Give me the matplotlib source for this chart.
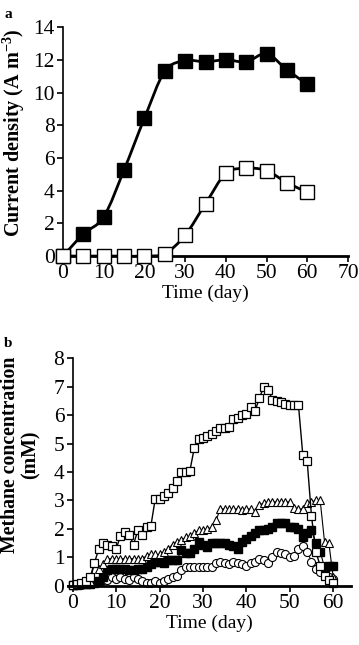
import numpy as np
import matplotlib
matplotlib.use('Agg')
import matplotlib.pyplot as plt
from matplotlib.path import Path
from matplotlib.patches import PathPatch

plt.rcParams['font.family'] = ['Liberation Serif', 'DejaVu Serif']
plt.rcParams['mathtext.fontset'] = 'custom'
plt.rcParams['mathtext.rm'] = 'Liberation Serif'
plt.rcParams['mathtext.bf'] = 'Liberation Serif:bold'

# panel a: current density (A m-3)
days_a = [0, 5, 10, 15, 20, 25, 30, 35, 40, 45, 50, 55, 60]
filled_a = [0, 1.35, 2.4, 5.27, 8.43, 11.3, 11.94, 11.88, 12.0, 11.88, 12.37, 11.39, 10.5]
open_a = [0, 0, 0, 0, 0, 0.15, 1.28, 3.2, 5.06, 5.37, 5.22, 4.49, 3.9]

# panel b: methane concentration (mM), daily
days_b = list(range(61))
open_sq = [0.02, 0.05, 0.1, 0.15, 0.3, 0.8, 1.3, 1.5, 1.45, 1.4,
           1.3, 1.75, 1.9, 1.8, 1.45, 1.95, 1.8, 2.05, 2.1, 3.05,
           3.05, 3.15, 3.25, 3.45, 3.7, 4.0, 4.0, 4.05, 4.85, 5.15,
           5.2, 5.25, 5.35, 5.45, 5.55, 5.55, 5.6, 5.85, 5.9, 6.0,
           6.05, 6.3, 6.15, 6.6, 7.0, 6.9, 6.55, 6.5, 6.45, 6.4,
           6.35, 6.35, 6.35, 4.6, 4.4, 2.45, 1.2, 0.7, 0.35, 0.2,
           0.1]
tri = [0.05, 0.05, 0.05, 0.1, 0.15, 0.8, 0.6, 0.75, 0.95, 0.95,
       0.95, 0.95, 0.95, 0.95, 0.95, 0.95, 0.95, 1.05, 1.1, 1.1,
       1.1, 1.2, 1.3, 1.45, 1.55, 1.6, 1.7, 1.75, 1.85, 1.95,
       1.95, 2.0, 2.05, 2.3, 2.7, 2.7, 2.7, 2.7, 2.7, 2.65,
       2.7, 2.7, 2.6, 2.85, 2.9, 2.95, 2.95, 2.95, 2.95, 2.95,
       2.95, 2.75, 2.7, 2.7, 2.9, 2.95, 3.0, 3.0, 1.55, 1.5,
       0.3]
filled_sq = [0.02, 0.03, 0.05, 0.05, 0.05, 0.1, 0.15, 0.3, 0.55, 0.6,
             0.6, 0.6, 0.6, 0.55, 0.55, 0.6, 0.6, 0.65, 0.75, 0.85,
             0.85, 0.8, 0.9, 0.9, 0.9, 1.25, 1.15, 1.15, 1.3, 1.55,
             1.45, 1.35, 1.5, 1.5, 1.5, 1.5, 1.45, 1.4, 1.3, 1.55,
             1.65, 1.75, 1.85, 1.95, 1.95, 2.0, 2.05, 2.2, 2.2, 2.2,
             2.05, 2.05, 2.0, 1.7, 1.85, 1.95, 1.5, 1.2, 0.65, 0.7,
             0.7]
circ = [0.02, 0.02, 0.03, 0.05, 0.05, 0.1, 0.15, 0.2, 0.2, 0.3,
        0.25, 0.3, 0.25, 0.2, 0.3, 0.25, 0.15, 0.1, 0.1, 0.15,
        0.1, 0.15, 0.25, 0.3, 0.35, 0.55, 0.65, 0.65, 0.65, 0.65,
        0.65, 0.65, 0.65, 0.8, 0.85, 0.8, 0.75, 0.85, 0.8, 0.75,
        0.7, 0.8, 0.85, 0.95, 0.9, 0.8, 1.0, 1.2, 1.15, 1.1,
        1.0, 1.05, 1.3, 1.4, 1.2, 0.85, 0.6, 0.5, 0.4, 0.3,
        0.25]


def smooth_path(x, y):
    # Excel-like smoothed line: cubic bezier segments through the points
    p = np.column_stack([x, y]).astype(float)
    n = len(p)
    verts = [p[0]]
    codes = [Path.MOVETO]
    for i in range(n - 1):
        p0 = p[i - 1] if i > 0 else p[i]
        p3 = p[i + 2] if i + 2 < n else p[i + 1]
        c1 = p[i] + (p[i + 1] - p0) / 6
        c2 = p[i + 1] - (p3 - p[i]) / 6
        verts += [c1, c2, p[i + 1]]
        codes += [Path.CURVE4] * 3
    return Path(verts, codes)


def style_axes(ax):
    for s in ['top', 'right']:
        ax.spines[s].set_visible(False)
    ax.spines['left'].set_position(('data', 0))
    ax.spines['left'].set_linewidth(1.2)
    ax.spines['bottom'].set_linewidth(2.0)
    ax.tick_params(direction='out', length=4, width=1.2, labelsize=15.5, pad=2)


fig = plt.figure(figsize=(3.59, 6.45), dpi=100)

# ---- panel a
ax1 = fig.add_axes([0.1755, 0.603, 0.794, 0.355])
ax1.add_patch(PathPatch(smooth_path(days_a, filled_a), fill=False, lw=2.0, color='black', zorder=2))
ax1.add_patch(PathPatch(smooth_path(days_a, open_a), fill=False, lw=2.0, color='black', zorder=2))
ax1.plot(days_a, filled_a, ls='none', marker='s', ms=10, mfc='black', mec='black', zorder=3, clip_on=False)
ax1.plot(days_a, open_a, ls='none', marker='s', ms=10, mfc='white', mec='black', mew=1.0, zorder=3, clip_on=False)
ax1.set_xlim(0, 70)
ax1.set_ylim(0, 14)
ax1.set_xticks(range(0, 71, 10))
ax1.set_yticks(range(0, 15, 2))
style_axes(ax1)
ax1.set_xlabel('Time (day)', fontsize=14, labelpad=1)
ax1.set_ylabel(r'Current density (A m$^{\mathbf{-3}}$)', fontsize=14.5, fontweight='bold')
ax1.yaxis.set_label_coords(-0.128, 0.54)
fig.text(0.012, 0.988, 'a', fontsize=11, fontweight='bold', va='top')

# ---- panel b
ax2 = fig.add_axes([0.1905, 0.0919, 0.786, 0.3526])
ms = 5.8
ax2.plot(days_b, circ, color='black', lw=0.8, marker='o', ms=ms, mfc='white', mec='black', mew=0.8, clip_on=False)
ax2.plot(days_b, filled_sq, color='black', lw=0.8, marker='s', ms=ms, mfc='black', mec='black', clip_on=False)
ax2.plot(days_b, tri, color='black', lw=0.8, marker='^', ms=ms, mfc='white', mec='black', mew=0.8, clip_on=False)
ax2.plot(days_b, open_sq, color='black', lw=1.0, marker='s', ms=ms + 0.5, mfc='white', mec='black', mew=0.9, clip_on=False)
ax2.set_xlim(-1, 64)
ax2.set_ylim(0, 8)
ax2.set_xticks(range(0, 61, 10))
ax2.set_yticks(range(0, 9))
style_axes(ax2)
ax2.set_xlabel('Time (day)', fontsize=14, labelpad=1)
ax2.set_ylabel('Methane concentration\n(mM)', fontsize=14.3, fontweight='bold', linespacing=1.0)
ax2.yaxis.set_label_coords(-0.1, 0.575)
fig.text(0.012, 0.478, 'b', fontsize=11, fontweight='bold', va='top')

fig.savefig('out.png', dpi=100)
